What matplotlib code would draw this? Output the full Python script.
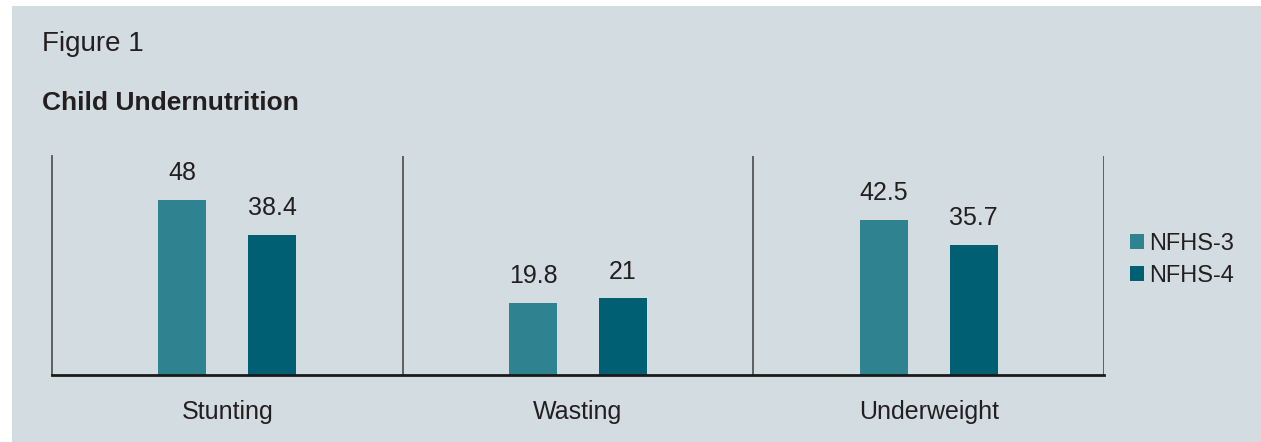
import matplotlib.pyplot as plt
import numpy as np
from matplotlib.patches import Rectangle

categories = ['Stunting', 'Wasting', 'Underweight']
nfhs3 = [48, 19.8, 42.5]
nfhs4 = [38.4, 21, 35.7]
series_names = ['NFHS-3', 'NFHS-4']

bg = '#d3dce1'
c3 = '#2f8391'
c4 = '#005f73'
txt = '#231f20'

plt.rcParams['font.family'] = ['Liberation Sans', 'DejaVu Sans']

fig = plt.figure(figsize=(12.61, 4.42), dpi=100, facecolor='white')
# shaded panel (white strip on top and left)
fig.patches.append(Rectangle((12 / 1261, 0), 1 - 12 / 1261, 1 - 6 / 442, transform=fig.transFigure,
                             facecolor=bg, edgecolor='none', zorder=-1))

fig.text(42 / 1261, 1 - 51 / 442, 'Figure 1', fontsize=20, color=txt, va='baseline')
fig.text(42 / 1261, 1 - 110 / 442, 'Child Undernutrition', fontsize=19, fontweight='bold',
         color=txt, va='baseline')

ax = fig.add_axes([52 / 1261, 1 - 375 / 442, (1104 - 52) / 1261, (375 - 156) / 442])
ax.set_facecolor('none')

x = np.arange(len(categories))
off = 0.128
w = 0.137
b3 = ax.bar(x - off, nfhs3, w, color=c3, label=series_names[0])
b4 = ax.bar(x + off, nfhs4, w, color=c4, label=series_names[1])

for bars, vals in ((b3, nfhs3), (b4, nfhs4)):
    for r, v in zip(bars, vals):
        ax.annotate(f'{v:g}', (r.get_x() + r.get_width() / 2, v), xytext=(0, 14),
                    textcoords='offset points', ha='center', va='baseline',
                    fontsize=18, color=txt)

ax.set_xlim(-0.5, 2.5)
ax.set_ylim(0, 60)
ax.set_yticks([])
ax.set_xticks(x)
ax.set_xticklabels(categories, fontsize=18, color=txt)
ax.tick_params(axis='x', length=0, pad=18)

for s in ('top', 'right'):
    ax.spines[s].set_visible(False)
ax.spines['left'].set_color('#555555')
ax.spines['left'].set_linewidth(1.3)
ax.spines['bottom'].set_color('#1a1a1a')
ax.spines['bottom'].set_linewidth(2)
for xv in (0.5, 1.5, 2.5):
    ax.axvline(xv, color='#555555', lw=1.3, zorder=1)

ax.legend(loc='upper left', bbox_to_anchor=(1109 / 1261, 1 - 212 / 442),
          bbox_transform=fig.transFigure, frameon=False, fontsize=17,
          handlelength=0.6, handleheight=0.6, handletextpad=0.2, labelspacing=0.42,
          labelcolor=txt)

fig.savefig('out.png', dpi=100, facecolor=fig.get_facecolor())
